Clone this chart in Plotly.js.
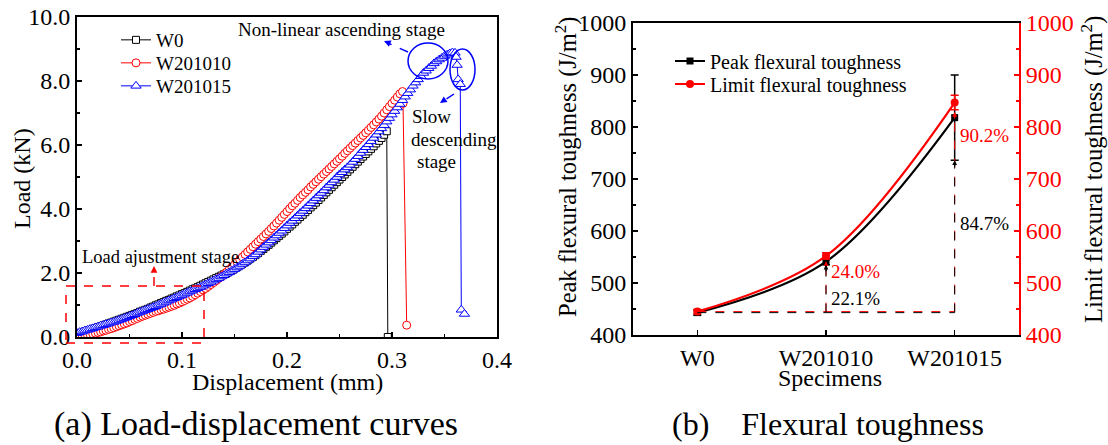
<!DOCTYPE html>
<html>
<head>
<meta charset="utf-8">
<script src="https://cdn.plot.ly/plotly-3.0.1.min.js"></script>
<style>html,body{margin:0;padding:0;background:#fff;}#chart{width:1108px;height:445px;}</style>
</head>
<body>
<div id="chart"></div>
<script>
// ---------- (a) Load-displacement data ----------
// sampled displacement grid (mm) shared by the three curves
const dispGrid = [0,0.0025,0.005,0.0075,0.01,0.0125,0.015,0.0175,0.02,0.0225,0.025,0.0275,0.03,0.0325,0.035,0.0375,0.04,0.0425,0.045,0.0475,
0.05,0.0525,0.055,0.0575,0.06,0.0625,0.065,0.0675,0.07,0.0725,0.075,0.0775,0.08,0.0825,0.085,0.0875,0.09,0.0925,0.095,0.0975,
0.10,0.1025,0.105,0.1075,0.11,0.1125,0.115,0.1175,0.12,0.1225,0.125,0.1275,0.13,0.1325,0.135,0.1375,0.14,0.1425,0.145,0.1475,
0.15,0.1525,0.155,0.1575,0.16,0.1625,0.165,0.1675,0.17,0.1725,0.175,0.1775,0.18,0.1825,0.185,0.1875,0.19,0.1925,0.195,0.1975,
0.20,0.2025,0.205,0.2075,0.21,0.2125,0.215,0.2175,0.22,0.2225,0.225,0.2275,0.23,0.2325,0.235,0.2375,0.24,0.2425,0.245,0.2475,
0.25,0.2525,0.255,0.2575,0.26,0.2625,0.265,0.2675,0.27,0.2725,0.275,0.2775,0.28,0.2825,0.285,0.2875,0.29,0.2925,0.295,0.2975,
0.30,0.3025,0.305,0.3075,0.31,0.3125,0.315,0.3175,0.32,0.3225,0.325,0.3275,0.33,0.3325,0.335,0.3375,0.34,0.3425,0.345,0.3475,
0.35,0.3525,0.355];

const w0Load = [0.08,0.11,0.14,0.17,0.20,0.22,0.25,0.28,0.31,0.33,0.36,0.39,0.42,0.45,0.48,0.51,0.54,0.57,0.60,0.63,
0.66,0.69,0.72,0.75,0.79,0.82,0.85,0.88,0.92,0.95,0.99,1.02,1.06,1.09,1.13,1.16,1.20,1.23,1.27,1.30,
1.34,1.37,1.41,1.45,1.49,1.52,1.56,1.60,1.64,1.68,1.72,1.76,1.80,1.84,1.88,1.92,1.96,2.00,2.05,2.09,
2.14,2.19,2.24,2.29,2.34,2.39,2.45,2.50,2.56,2.62,2.69,2.75,2.82,2.88,2.95,3.02,3.09,3.16,3.23,3.30,
3.38,3.45,3.52,3.60,3.67,3.75,3.82,3.90,3.97,4.05,4.12,4.20,4.28,4.36,4.44,4.52,4.60,4.68,4.76,4.84,
4.92,5.00,5.08,5.16,5.24,5.32,5.40,5.48,5.56,5.64,5.72,5.80,5.88,5.96,6.05,6.13,6.22,6.32,6.43];
const w0TailDisp = [0.296];
const w0TailLoad = [0.0];

const w1010Load = [0.02,0.03,0.04,0.05,0.06,0.08,0.10,0.12,0.14,0.16,0.19,0.21,0.24,0.26,0.29,0.32,0.35,0.38,0.41,0.44,
0.48,0.51,0.55,0.58,0.62,0.65,0.68,0.71,0.74,0.77,0.80,0.82,0.85,0.87,0.90,0.93,0.96,0.99,1.03,1.06,
1.10,1.14,1.18,1.22,1.27,1.32,1.37,1.42,1.47,1.52,1.58,1.64,1.70,1.76,1.83,1.89,1.96,2.03,2.11,2.18,
2.26,2.34,2.42,2.50,2.58,2.66,2.74,2.82,2.90,2.98,3.06,3.14,3.22,3.30,3.39,3.47,3.56,3.65,3.74,3.83,
3.92,4.01,4.10,4.18,4.27,4.36,4.44,4.52,4.60,4.69,4.77,4.85,4.93,5.01,5.09,5.17,5.25,5.33,5.41,5.49,
5.57,5.65,5.74,5.82,5.90,5.98,6.06,6.14,6.22,6.30,6.38,6.46,6.55,6.63,6.72,6.81,6.90,7.00,7.10,7.20,
7.30,7.40,7.50,7.60,7.67];
const w1010TailDisp = [0.3105, 0.314];
const w1010TailLoad = [7.30, 0.37];

const w1015Load = [0.12,0.15,0.17,0.20,0.22,0.25,0.27,0.30,0.32,0.35,0.37,0.40,0.42,0.45,0.47,0.50,0.53,0.56,0.59,0.62,
0.65,0.68,0.71,0.75,0.78,0.81,0.84,0.87,0.90,0.93,0.96,1.00,1.03,1.07,1.10,1.14,1.17,1.21,1.24,1.28,
1.31,1.35,1.38,1.42,1.45,1.49,1.52,1.56,1.60,1.64,1.68,1.72,1.76,1.80,1.84,1.89,1.93,1.98,2.02,2.07,
2.12,2.17,2.22,2.28,2.33,2.39,2.45,2.52,2.58,2.66,2.73,2.81,2.88,2.95,3.02,3.10,3.17,3.25,3.32,3.40,
3.48,3.56,3.63,3.71,3.79,3.87,3.94,4.02,4.10,4.18,4.26,4.34,4.42,4.50,4.58,4.67,4.75,4.83,4.91,5.00,
5.08,5.15,5.23,5.30,5.38,5.47,5.56,5.65,5.75,5.84,5.93,6.02,6.12,6.22,6.32,6.42,6.52,6.62,6.73,6.84,
6.95,7.06,7.17,7.28,7.40,7.51,7.62,7.73,7.85,7.95,8.05,8.15,8.25,8.32,8.40,8.47,8.55,8.61,8.67,8.72,
8.78,8.82,8.86];
const w1015TailDisp = [0.3575,0.36,0.361,0.362,0.363,0.365,0.366,0.369];
const w1015TailLoad = [8.89,8.88,8.75,8.50,8.05,7.90,0.85,0.72];

const seriesNamesA = ['W0','W201010','W201015'];
const xTickVals = [0,0.1,0.2,0.3,0.4];
const yTickValsA = [0,2,4,6,8,10];

// ---------- (b) Flexural toughness data ----------
const specimens = ['W0','W201010','W201015'];
const peakToughness = [443, 541, 818];
const peakError = [5, 6, 82];
const limitToughness = [445, 552, 847];
const limitError = [4, 6, 14];
const peakIncreaseLabels = ['22.1%', '84.7%'];
const limitIncreaseLabels = ['24.0%', '90.2%'];
const seriesNamesB = ['Peak flexural toughness', 'Limit flexural toughness'];

// ---------- helpers ----------
const W = 1108, H = 445;
const px = v => v / W;
const py = v => 1 - v / H;
const FONT = 'Liberation Serif';
const curve = (load, tailDisp, tailLoad) => ({
  x: dispGrid.slice(0, load.length).concat(tailDisp),
  y: load.concat(tailLoad)
});
const c0 = curve(w0Load, w0TailDisp, w0TailLoad);
const c1 = curve(w1010Load, w1010TailDisp, w1010TailLoad);
const c2 = curve(w1015Load, w1015TailDisp, w1015TailLoad);

const traces = [
  {x: c0.x, y: c0.y, name: seriesNamesA[0], mode: 'lines+markers', xaxis: 'x', yaxis: 'y', legend: 'legend',
   line: {color: '#000000', width: 1}, marker: {symbol: 'square', size: 7, color: '#ffffff', line: {color: '#000000', width: 1}}},
  {x: c1.x, y: c1.y, name: seriesNamesA[1], mode: 'lines+markers', xaxis: 'x', yaxis: 'y', legend: 'legend2',
   line: {color: '#ff0000', width: 1}, marker: {symbol: 'circle', size: 8, color: '#ffffff', line: {color: '#ff0000', width: 1}}},
  {x: c2.x, y: c2.y, name: seriesNamesA[2], mode: 'lines+markers', xaxis: 'x', yaxis: 'y', legend: 'legend3',
   line: {color: '#0000ff', width: 1}, marker: {symbol: 'triangle-up', size: 9, color: '#ffffff', line: {color: '#0000ff', width: 1}}},
  {x: specimens, y: peakToughness, name: seriesNamesB[0], mode: 'lines+markers', xaxis: 'x2', yaxis: 'y2', legend: 'legend4',
   line: {color: '#000000', width: 2.2, shape: 'spline'}, marker: {symbol: 'square', size: 7, color: '#000000'},
   error_y: {type: 'data', array: peakError, color: '#000000', thickness: 1.5, width: 4}},
  {x: specimens, y: limitToughness, name: seriesNamesB[1], mode: 'lines+markers', xaxis: 'x2', yaxis: 'y3', legend: 'legend5',
   line: {color: '#ff0000', width: 2.2, shape: 'spline'}, marker: {symbol: 'circle', size: 8, color: '#ff0000'},
   error_y: {type: 'data', array: limitError, color: '#ff0000', thickness: 1.5, width: 4}}
];

const axisCommon = {showgrid: false, zeroline: false, ticks: 'inside', ticklen: 5, tickwidth: 1.5,
  linewidth: 2, linecolor: '#000', tickcolor: '#000', tickfont: {family: FONT, size: 24, color: '#000'}};

const shapes = [];
const annotations = [];

// (b) dashed reference lines (from data)
shapes.push({type: 'line', xref: 'x2', yref: 'y3', x0: 0, x1: 2, y0: limitToughness[0], y1: limitToughness[0], line: {color: '#ff0000', width: 1, dash: 'dash'}});
shapes.push({type: 'line', xref: 'x2', yref: 'y2', x0: 0, x1: 2, y0: peakToughness[0], y1: peakToughness[0], line: {color: '#000000', width: 1, dash: 'dash'}});
[1, 2].forEach(i => {
  shapes.push({type: 'line', xref: 'x2', yref: 'y3', x0: i, x1: i, y0: limitToughness[0], y1: limitToughness[i] - limitError[i] - 6, line: {color: '#ff0000', width: 1, dash: 'dash'}});
  shapes.push({type: 'line', xref: 'x2', yref: 'y2', x0: i, x1: i, y0: peakToughness[0], y1: peakToughness[i] - peakError[i] - 2, line: {color: '#000000', width: 1, dash: 'dash'}});
  annotations.push({xref: 'x2', yref: 'y3', x: i, y: limitToughness[i] - limitError[i] - 4, ax: 0, ay: 8, text: '', showarrow: true, arrowhead: 2, arrowsize: 0.8, arrowwidth: 1.2, arrowcolor: '#ff0000'});
  annotations.push({xref: 'x2', yref: 'y2', x: i, y: peakToughness[i] - peakError[i], ax: 0, ay: 8, text: '', showarrow: true, arrowhead: 2, arrowsize: 0.8, arrowwidth: 1.2, arrowcolor: '#000000'});
});
const pct = (x, y, text, color) => ({xref: 'x2', yref: 'y2', x: x, y: y, xanchor: 'left', yanchor: 'middle', xshift: 3,
  text: text, showarrow: false, font: {family: FONT, size: 19, color: color}});
annotations.push(pct(1, 523, limitIncreaseLabels[0], '#ff0000'));
annotations.push(pct(1, 470, peakIncreaseLabels[0], '#000000'));
annotations.push(pct(2, 783, limitIncreaseLabels[1], '#ff0000'));
annotations.push(pct(2, 615, peakIncreaseLabels[1], '#000000'));

// (a) decorations (paper coordinates)
shapes.push({type: 'rect', xref: 'paper', yref: 'paper', x0: px(66), x1: px(204), y0: py(343), y1: py(286), line: {color: '#ff0000', width: 1.5, dash: 'dash'}});
shapes.push({type: 'line', xref: 'paper', yref: 'paper', x0: px(154), x1: px(154), y0: py(286), y1: py(274), line: {color: '#ff0000', width: 1.5, dash: 'dash'}});
annotations.push({xref: 'paper', yref: 'paper', x: px(154), y: py(266), ax: 0, ay: 7, text: '', showarrow: true, arrowhead: 2, arrowsize: 0.9, arrowwidth: 1.5, arrowcolor: '#ff0000'});
shapes.push({type: 'circle', xref: 'paper', yref: 'paper', x0: px(408), x1: px(448), y0: py(79), y1: py(43), line: {color: '#0000ff', width: 1.5}});
shapes.push({type: 'circle', xref: 'paper', yref: 'paper', x0: px(450), x1: px(475), y0: py(90), y1: py(49), line: {color: '#0000ff', width: 1.5}});
shapes.push({type: 'line', xref: 'paper', yref: 'paper', x0: px(408), x1: px(390), y0: py(52), y1: py(44), line: {color: '#0000ff', width: 1.5, dash: 'dash'}});
annotations.push({xref: 'paper', yref: 'paper', x: px(384), y: py(41), ax: 7, ay: 3, text: '', showarrow: true, arrowhead: 2, arrowsize: 0.9, arrowwidth: 1.5, arrowcolor: '#0000ff'});
shapes.push({type: 'line', xref: 'paper', yref: 'paper', x0: px(454), x1: px(445), y0: py(94), y1: py(100), line: {color: '#0000ff', width: 1.5, dash: 'dash'}});
annotations.push({xref: 'paper', yref: 'paper', x: px(440), y: py(103), ax: 6, ay: -4, text: '', showarrow: true, arrowhead: 2, arrowsize: 0.9, arrowwidth: 1.5, arrowcolor: '#0000ff'});

const txt = (x, y, text, size, opts) => Object.assign({xref: 'paper', yref: 'paper', x: px(x), y: py(y), text: text, showarrow: false,
  xanchor: 'center', yanchor: 'middle', font: {family: FONT, size: size, color: '#000'}}, opts || {});

annotations.push(txt(341, 30, 'Non-linear ascending stage', 19));
annotations.push(txt(410, 116, 'Slow', 19, {xanchor: 'left'}));
annotations.push(txt(409, 139, 'descending', 19, {xanchor: 'left'}));
annotations.push(txt(415, 162, 'stage', 19, {xanchor: 'left'}));
annotations.push(txt(160, 257, 'Load ajustment stage', 18.5));
// axis titles
annotations.push(txt(22, 179, 'Load (kN)', 24, {textangle: -90}));
annotations.push(txt(287, 382, 'Displacement (mm)', 24));
annotations.push(txt(566, 167, 'Peak flexural toughness (J/m<sup>2</sup>)', 24.5, {textangle: -90}));
annotations.push(txt(1092, 170, 'Limit flexural toughness (J/m<sup>2</sup>)', 24.5, {textangle: -90}));
annotations.push(txt(830, 378, 'Specimens', 24));
// captions
annotations.push(txt(256, 424, '(a) Load-displacement curves', 34));
annotations.push(txt(828, 424, '(b)&#160;&#160;&#160; Flexural toughness', 32));

const leg = (x, y, size) => ({x: px(x), y: py(y), xanchor: 'left', yanchor: 'middle', bgcolor: 'rgba(0,0,0,0)', borderwidth: 0,
  font: {family: FONT, size: size, color: '#000'}});

const layout = {
  width: W, height: H,
  margin: {l: 0, r: 0, t: 0, b: 0},
  paper_bgcolor: '#fff', plot_bgcolor: 'rgba(0,0,0,0)',
  font: {family: FONT, size: 20, color: '#000'},
  xaxis: Object.assign({}, axisCommon, {domain: [px(77), px(497)], range: [0, 0.4], tickvals: xTickVals, tickformat: '.1f',
    anchor: 'y', mirror: true, minor: {dtick: 0.05, ticks: 'inside', ticklen: 3, tickwidth: 1.5, tickcolor: '#000'}}),
  yaxis: Object.assign({}, axisCommon, {domain: [py(337), py(17)], range: [0, 10], tickvals: yTickValsA, tickformat: '.1f',
    anchor: 'x', mirror: true, minor: {dtick: 1, ticks: 'inside', ticklen: 3, tickwidth: 1.5, tickcolor: '#000'}}),
  xaxis2: Object.assign({}, axisCommon, {domain: [px(633), px(1019)], type: 'category', range: [-0.5, 2.5],
    anchor: 'y2', mirror: true}),
  yaxis2: Object.assign({}, axisCommon, {domain: [py(335), py(23)], range: [400, 1000], dtick: 100,
    anchor: 'x2', minor: {dtick: 50, ticks: 'inside', ticklen: 3, tickwidth: 1.5, tickcolor: '#000'}}),
  yaxis3: Object.assign({}, axisCommon, {overlaying: 'y2', side: 'right', anchor: 'x2', range: [400, 1000], dtick: 100,
    linecolor: '#ff0000', tickcolor: '#ff0000', tickfont: {family: FONT, size: 24, color: '#ff0000'},
    minor: {dtick: 50, ticks: 'inside', ticklen: 3, tickwidth: 1.5, tickcolor: '#ff0000'}}),
  showlegend: true,
  legend: leg(116, 40, 19),
  legend2: leg(116, 63, 19),
  legend3: leg(116, 86, 19),
  legend4: leg(670, 61, 20),
  legend5: leg(670, 84, 20),
  shapes: shapes,
  annotations: annotations
};

Plotly.newPlot('chart', traces, layout, {displayModeBar: false, staticPlot: true});
</script>
</body>
</html>
